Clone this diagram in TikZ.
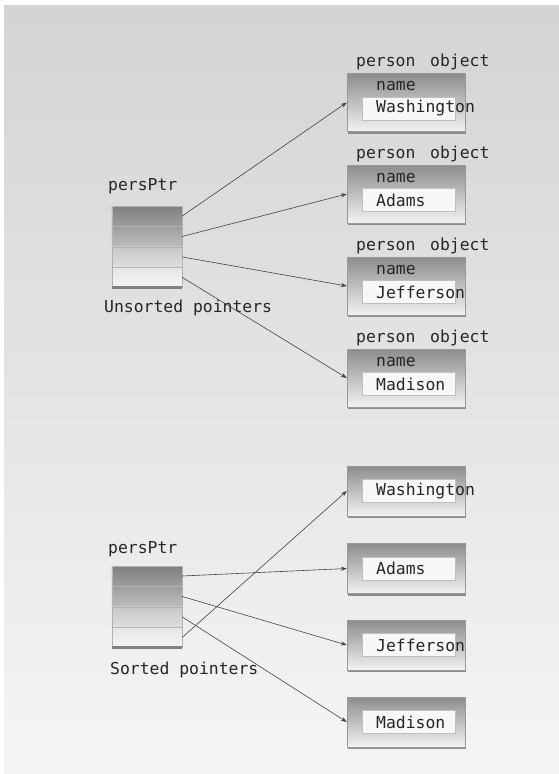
\documentclass[tikz,border=0pt]{standalone}
\usepackage{fontspec}
\setmonofont{DejaVu Sans Mono}
\usepackage{tikz}
\usetikzlibrary{arrows.meta, positioning, calc, shadows}
\tikzstyle{cell}   = [rectangle, minimum width=2.1cm, minimum height=0.6cm, inner sep=0pt, draw=black!30]
\tikzstyle{objbox} = [rectangle, minimum width=3.54cm, minimum height=1.74cm, inner sep=0pt, draw=black!40, top color=black!45, bottom color=black!5, drop shadow={shadow xshift=0.04cm, shadow yshift=-0.07cm, fill=black!45, opacity=1}]
\tikzstyle{valbox} = [objbox, minimum height=1.5cm]
\tikzstyle{field}  = [rectangle, minimum width=2.79cm, minimum height=0.7cm, inner sep=0pt, draw=black!25, fill=black!3]
\tikzstyle{lbl}    = [inner sep=0pt, anchor=west, text=black!85]
\tikzstyle{arrow}  = [draw=black!75, line width=0.5pt, -{Stealth[length=5pt, width=3.5pt]}]
\tikzstyle{ledge}  = [draw=black!50, line width=2pt]

\begin{document}
\begin{tikzpicture}[x=0.03cm, y=-0.03cm, every node/.style={font=\ttfamily\fontsize{14}{16}\selectfont}]

  % background
  \useasboundingbox (0,0) rectangle (559,774);
  \fill[white] (0,0) rectangle (559,774);
  \shade[top color=black!17, bottom color=black!4] (4,5) rectangle (559,774);

  % Unsorted pointer array
  \node[cell, top color=black!50, bottom color=black!38] (u1) at (147,216) {};
  \node[cell, top color=black!38, bottom color=black!26, below=0pt of u1] (u2) {};
  \node[cell, top color=black!22, bottom color=black!13, below=0pt of u2] (u3) {};
  \node[cell, top color=black!10, bottom color=black!4, below=0pt of u3] (u4) {};
  \draw[ledge] (u4.south west) -- (u4.south east);
  \node[lbl] (uptr) at (108,186) {persPtr};
  \node[lbl] (ucap) at (104,308) {Unsorted pointers};

  % person objects
  \node[objbox] (w1) at (406,102.5) {};
  \node[field] (wf1) at (408.5,108.5) {};
  \node[lbl] (wh1) at (356,62) {person\hspace{0.9em}object};
  \node[lbl] (wn1) at (376,86) {name};
  \node[lbl] (wt1) at (376,108.5) {Washington};

  \node[objbox] (w2) at (406,194) {};
  \node[field] (wf2) at (408.5,200) {};
  \node[lbl] (wh2) at (356,154) {person\hspace{0.9em}object};
  \node[lbl] (wn2) at (376,178) {name};
  \node[lbl] (wt2) at (376,200) {Adams};

  \node[objbox] (w3) at (406,286) {};
  \node[field] (wf3) at (408.5,292) {};
  \node[lbl] (wh3) at (356,246) {person\hspace{0.9em}object};
  \node[lbl] (wn3) at (376,270) {name};
  \node[lbl] (wt3) at (376,292) {Jefferson};

  \node[objbox] (w4) at (406,378) {};
  \node[field] (wf4) at (408.5,384) {};
  \node[lbl] (wh4) at (356,338) {person\hspace{0.9em}object};
  \node[lbl] (wn4) at (376,362) {name};
  \node[lbl] (wt4) at (376,384) {Madison};

  % Sorted pointer array
  \node[cell, top color=black!50, bottom color=black!38] (s1) at (147,576) {};
  \node[cell, top color=black!38, bottom color=black!26, below=0pt of s1] (s2) {};
  \node[cell, top color=black!22, bottom color=black!13, below=0pt of s2] (s3) {};
  \node[cell, top color=black!10, bottom color=black!4, below=0pt of s3] (s4) {};
  \draw[ledge] (s4.south west) -- (s4.south east);
  \node[lbl] (sptr) at (108,549) {persPtr};
  \node[lbl] (scap) at (110,670) {Sorted pointers};

  % sorted objects
  \node[valbox] (b1) at (406,491) {};
  \node[field] (bf1) at (408.5,491) {};
  \node[lbl] (bt1) at (376,491) {Washington};

  \node[valbox] (b2) at (406,568.5) {};
  \node[field] (bf2) at (408.5,568.5) {};
  \node[lbl] (bt2) at (376,568.5) {Adams};

  \node[valbox] (b3) at (406,645) {};
  \node[field] (bf3) at (408.5,645) {};
  \node[lbl] (bt3) at (376,645) {Jefferson};

  \node[valbox] (b4) at (406,722) {};
  \node[field] (bf4) at (408.5,722) {};
  \node[lbl] (bt4) at (376,722) {Madison};

  % Arrows
  \draw[arrow] (u1.east) -- (w1.west);
  \draw[arrow] (u2.east) -- (w2.west);
  \draw[arrow] (u3.east) -- (w3.west);
  \draw[arrow] (u4.east) -- (w4.west);
  \draw[arrow] (s1.east) -- (b2.west);
  \draw[arrow] (s2.east) -- (b3.west);
  \draw[arrow] (s3.east) -- (b4.west);
  \draw[arrow] (s4.east) -- (b1.west);

\end{tikzpicture}
\end{document}
